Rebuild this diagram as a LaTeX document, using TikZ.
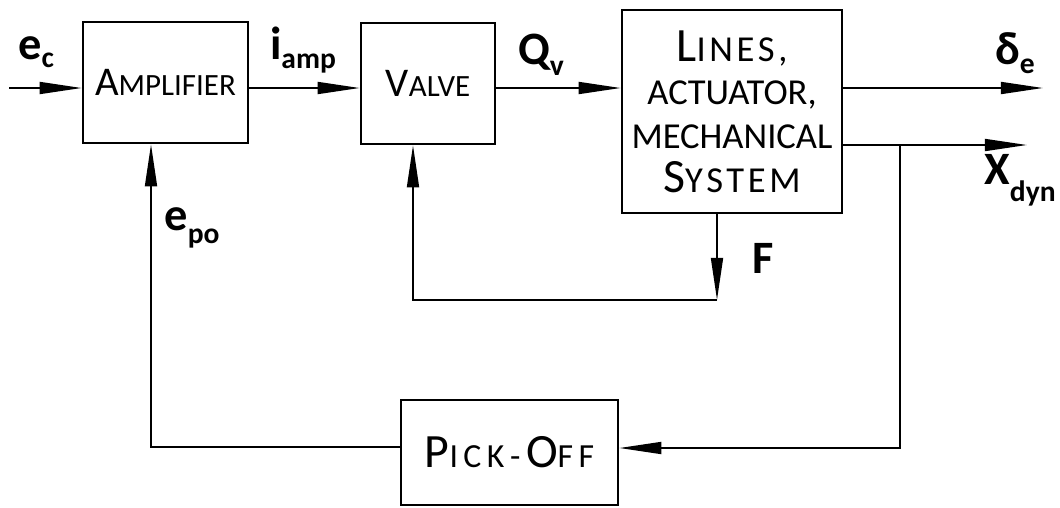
\documentclass[tikz,border=0pt]{standalone}
\usepackage{fontspec}
\setmainfont{Carlito}
\usetikzlibrary{arrows.meta}

\newcommand{\Ini}[1]{{\fontsize{29}{30}\selectfont #1}}
\newcommand{\BigIni}[1]{{\fontsize{34}{31}\selectfont #1}}
\newcommand{\spaced}{\addfontfeature{LetterSpace=10}}
\newcommand{\sig}[3][6pt]{#2\raisebox{-#1}{\fontsize{21}{21}\selectfont #3}}

\begin{document}
\begin{tikzpicture}[x=0.025cm, y=-0.025cm,
    block/.style={rectangle, draw, line width=1.8pt, inner sep=0pt, align=center, font=\fontsize{22}{31}\selectfont},
    biglines/.style={font=\fontsize{26}{31}\selectfont},
    arrow/.style={-{Triangle[length=30pt, width=8.5pt]}, line width=1.4pt},
    signal/.style={font=\bfseries\fontsize{33}{33}\selectfont, inner sep=0pt}
]
\useasboundingbox (0,0) rectangle (1060,507);

% Blocks
\node[block, minimum width=4.125cm, minimum height=3.025cm] (amp) at (165.5,82.5) {\Ini{A}MPLIFIER};
\node[block, minimum width=3.35cm, minimum height=3.025cm] (valve) at (428,83.5) {\Ini{V}ALVE};
\node[block, biglines, minimum width=5.5cm, minimum height=5.075cm] (sys) at (732,111.5)
    {{\spaced\BigIni{L}INES,}\\ACTUATOR,\\MECHANICAL\\{\spaced\BigIni{S}YSTEM}};
\node[block, minimum width=5.425cm, minimum height=2.625cm, font=\fontsize{24}{31}\selectfont] (pick) at (509.5,452.5)
    {\addfontfeature{LetterSpace=16}\BigIni{P}ICK\,-\,\BigIni{O}FF};

% Signal labels
\node[signal] (ec) at (36,52) {\sig{e}{c}};
\node[signal] (iamp) at (303,50) {\sig{i}{amp}};
\node[signal] (qv) at (541,55) {\sig[8pt]{Q}{v}};
\node[signal] (de) at (1015,53) {\sig{δ}{e}};
\node[signal] (xdyn) at (1020,180) {\sig[12pt]{X}{dyn}};
\node[signal] (force) at (763,258) {F};
\node[signal] (epo) at (192,228) {\sig[9pt]{e}{po}};

% Forward path
\coordinate (in) at (9,88);
\draw[arrow] (in) -- (in -| amp.west);
\draw[arrow] (amp.east |- in) -- (valve.west |- in);
\draw[arrow] (valve.east |- in) -- (sys.west |- in);

% Outputs
\coordinate (dend) at (1043,88);
\coordinate (xend) at (1027,145);
\draw[arrow] (sys.east |- dend) -- (dend);
\draw[arrow] (sys.east |- xend) -- (xend);

% Position feedback through pick-off
\coordinate (tap) at (900,145);
\coordinate (tapdown) at (900,448);
\coordinate (fbl) at (151,447);
\draw[arrow] (tap) -- (tapdown) -- (tapdown -| pick.east);
\draw[arrow] (fbl -| pick.west) -- (fbl) -- (fbl |- amp.south);

% Force feedback to valve
\coordinate (fdown) at (717,300);
\coordinate (vup) at (413,300);
\draw[arrow] (fdown |- sys.south) -- (fdown);
\draw[arrow] (fdown) -- (vup) -- (vup |- valve.south);

\end{tikzpicture}
\end{document}
